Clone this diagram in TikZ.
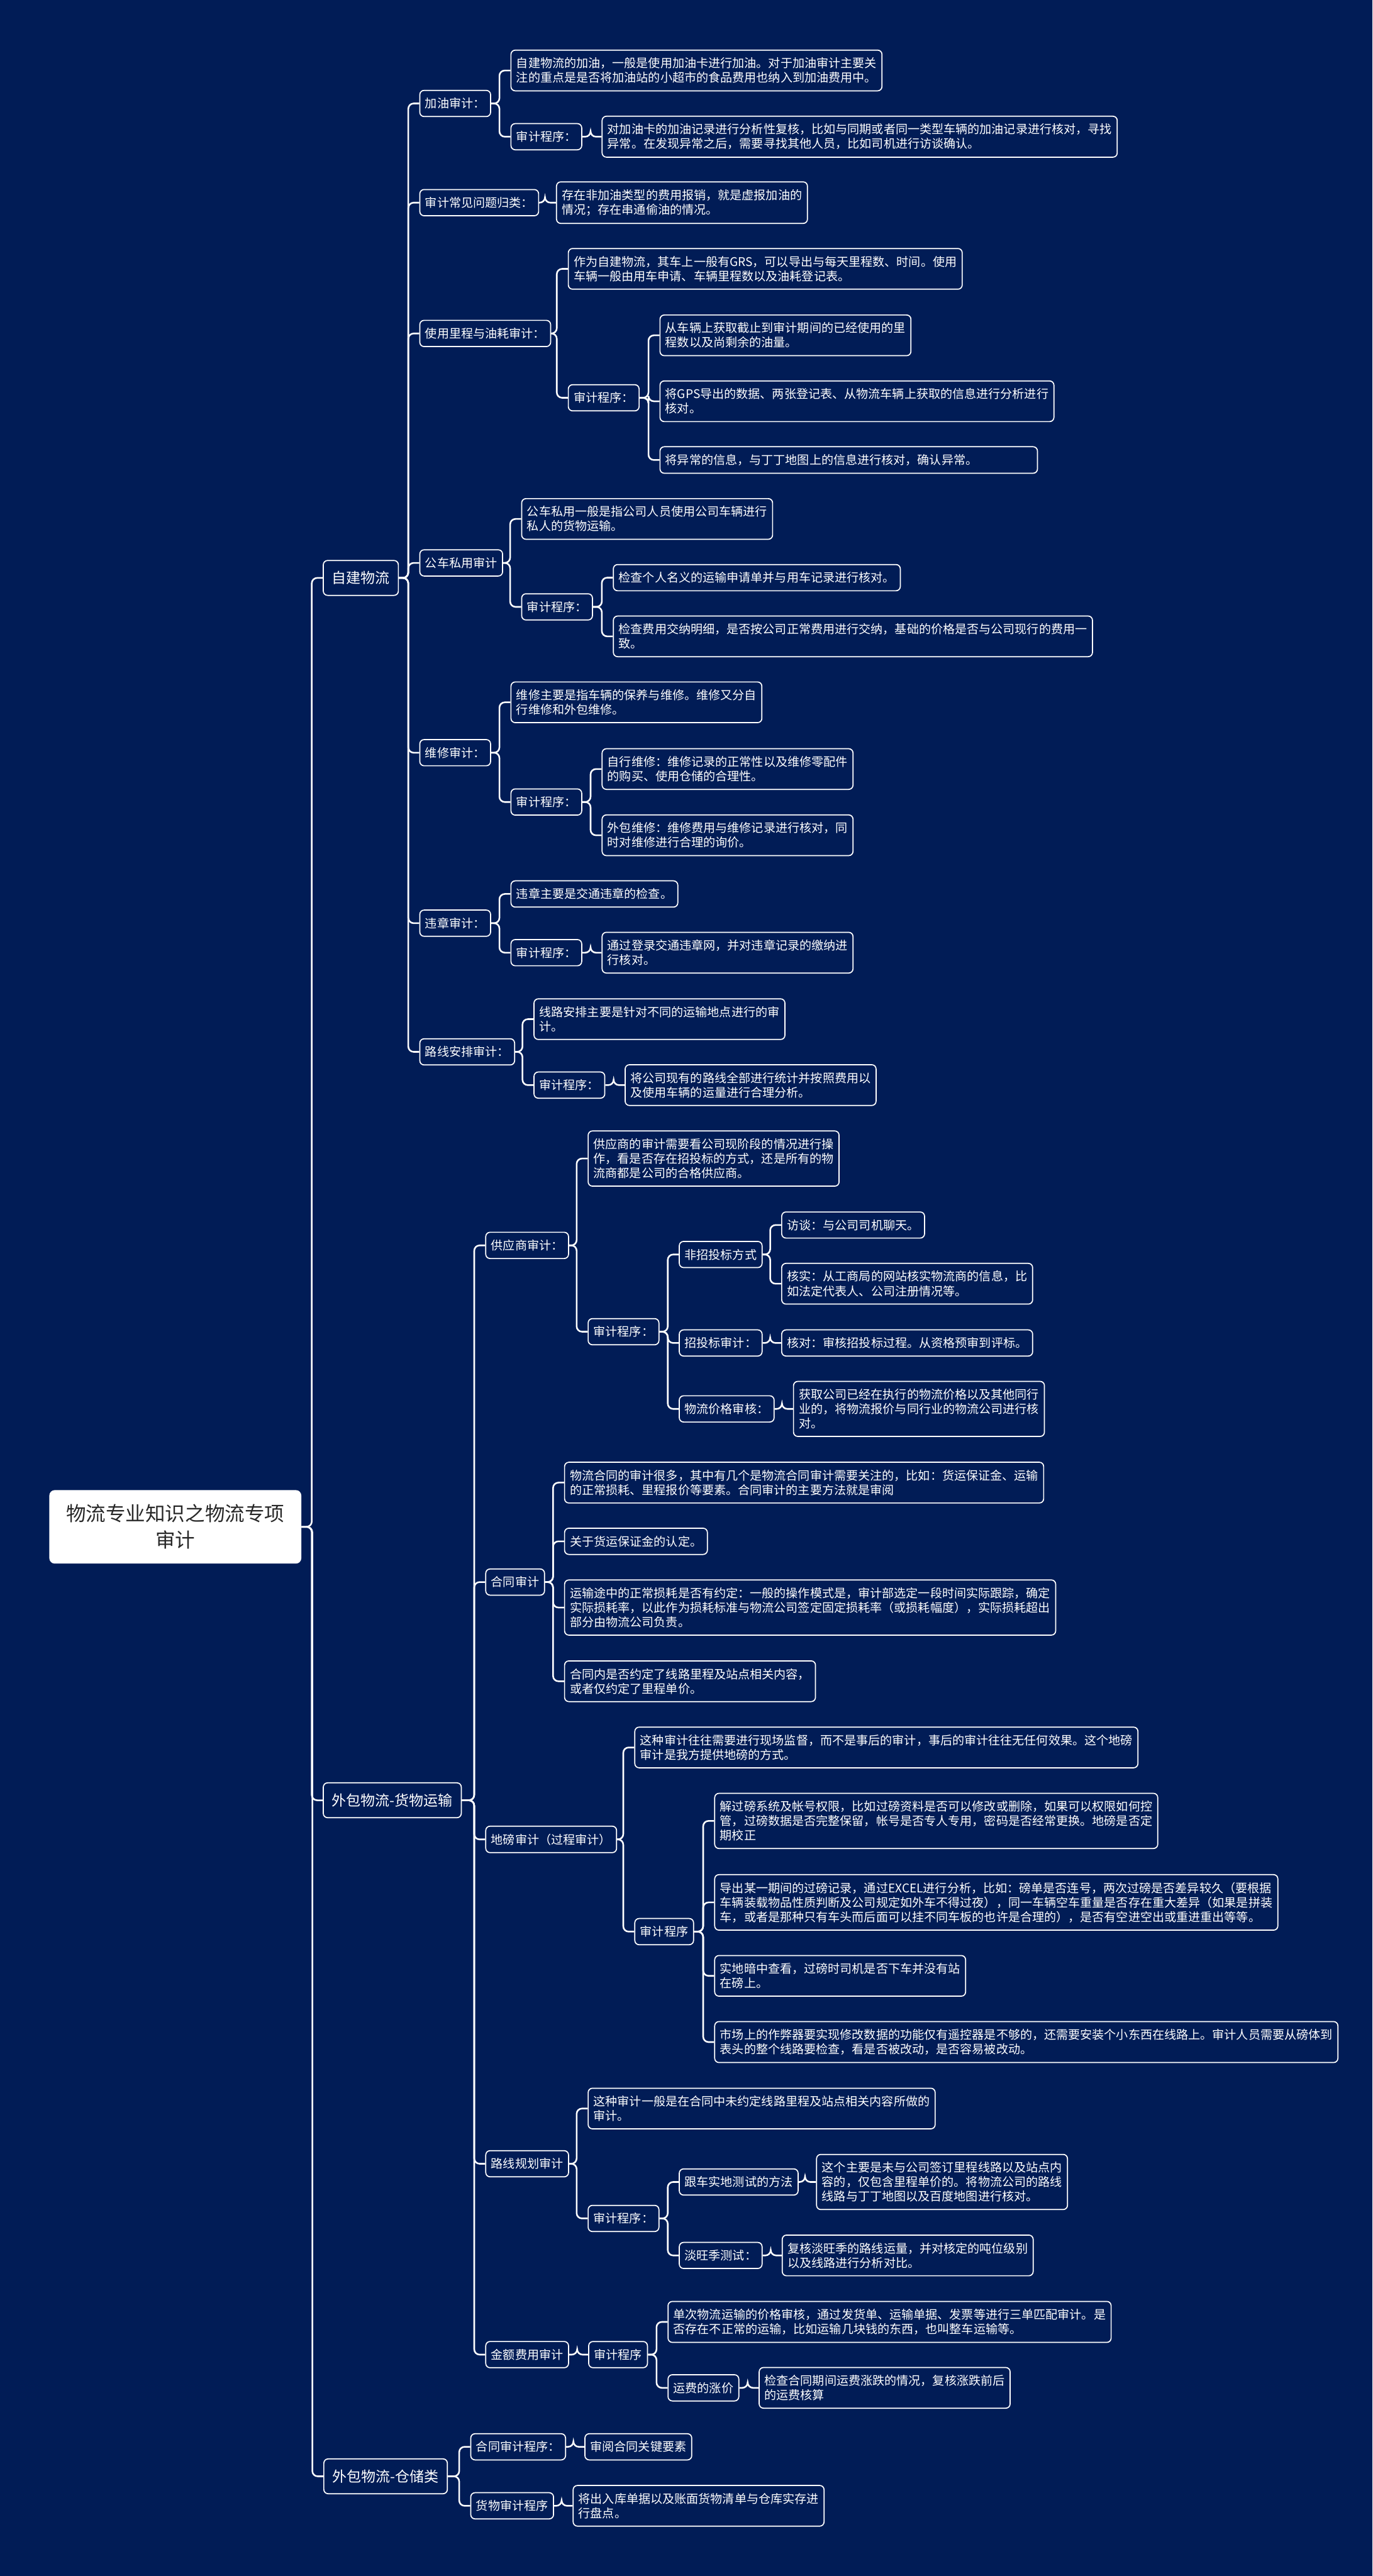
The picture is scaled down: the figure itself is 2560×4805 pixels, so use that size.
\documentclass[tikz,border=0pt]{standalone}
\usepackage{fontspec}
\newfontfamily\cjk{Noto Sans CJK SC}
\usetikzlibrary{calc}
\definecolor{NavyBg}{RGB}{1,28,86}
\definecolor{RootInk}{RGB}{40,40,40}
\tikzset{
  root/.style={fill=white,rounded corners=5pt,text=RootInk,align=center,
    minimum width=235pt,minimum height=68.5pt,font=\cjk\fontsize{18.5}{24.5}\selectfont},
  topic/.style={draw=white,line width=1pt,fill=NavyBg,text=white,rounded corners=4pt,
    inner xsep=8pt,minimum height=32.5pt,anchor=west,font=\cjk\fontsize{13.5}{16}\selectfont},
  item/.style={draw=white,line width=1pt,fill=NavyBg,text=white,rounded corners=4pt,
    inner xsep=5pt,inner ysep=7pt,align=left,anchor=west,font=\cjk\fontsize{11.2}{13.5}\selectfont},
  link/.style={draw=white,line width=1.5pt,rounded corners=5pt},
}
\begin{document}
\begin{tikzpicture}[x=0.5pt,y=-0.5pt]
\fill[NavyBg] (0,0) rectangle (2560,4805);
\node[root] (root) at (327,2848) {物流专业知识之物流专项\\审计};
% 自建物流
\node[topic] (z) at (602,1078) {自建物流};
\node[item] (za) at (782,193) {加油审计：};
\node[item] (zat) at (952,131.5) {自建物流的加油，一般是使用加油卡进行加油。对于加油审计主要关\\注的重点是是否将加油站的小超市的食品费用也纳入到加油费用中。};
\node[item] (zap) at (952,255) {审计程序：};
\node[item] (zapt) at (1122,255) {对加油卡的加油记录进行分析性复核，比如与同期或者同一类型车辆的加油记录进行核对，寻找\\异常。在发现异常之后，需要寻找其他人员，比如司机进行访谈确认。};
\node[item] (zb) at (782,378) {审计常见问题归类：};
\node[item] (zbt) at (1037,378) {存在非加油类型的费用报销，就是虚报加油的\\情况；存在串通偷油的情况。};
\node[item] (zc) at (782,622) {使用里程与油耗审计：};
\node[item] (zct) at (1059,501.5) {作为自建物流，其车上一般有GRS，可以导出与每天里程数、时间。使用\\车辆一般由用车申请、车辆里程数以及油耗登记表。};
\node[item] (zcp) at (1059,742) {审计程序：};
\node[item] (zcp1) at (1230,625.5) {从车辆上获取截止到审计期间的已经使用的里\\程数以及尚剩余的油量。};
\node[item] (zcp2) at (1230,748.5) {将GPS导出的数据、两张登记表、从物流车辆上获取的信息进行分析进行\\核对。};
\node[item,text width=342pt] (zcp3) at (1230,858) {将异常的信息，与丁丁地图上的信息进行核对，确认异常。};
\node[item] (zd) at (782,1050) {公车私用审计};
\node[item] (zdt) at (972,968) {公车私用一般是指公司人员使用公司车辆进行\\私人的货物运输。};
\node[item] (zdp) at (972,1132) {审计程序：};
\node[item] (zdp1) at (1143,1077.5) {检查个人名义的运输申请单并与用车记录进行核对。};
\node[item] (zdp2) at (1143,1187) {检查费用交纳明细，是否按公司正常费用进行交纳，基础的价格是否与公司现行的费用一\\致。};
\node[item] (ze) at (782,1404) {维修审计：};
\node[item] (zet) at (952,1310) {维修主要是指车辆的保养与维修。维修又分自\\行维修和外包维修。};
\node[item] (zep) at (952,1496) {审计程序：};
\node[item] (zep1) at (1122,1434.5) {自行维修：维修记录的正常性以及维修零配件\\的购买、使用仓储的合理性。};
\node[item] (zep2) at (1122,1558) {外包维修：维修费用与维修记录进行核对，同\\时对维修进行合理的询价。};
\node[item] (zf) at (782,1722) {违章审计：};
\node[item] (zft) at (952,1667.5) {违章主要是交通违章的检查。};
\node[item] (zfp) at (952,1777) {审计程序：};
\node[item] (zfp1) at (1122,1777) {通过登录交通违章网，并对违章记录的缴纳进\\行核对。};
\node[item] (zg) at (782,1962) {路线安排审计：};
\node[item] (zgt) at (995,1901) {线路安排主要是针对不同的运输地点进行的审\\计。};
\node[item] (zgp) at (995,2024) {审计程序：};
\node[item] (zgp1) at (1165,2024) {将公司现有的路线全部进行统计并按照费用以\\及使用车辆的运量进行合理分析。};
% 外包物流-货物运输
\node[topic] (w) at (602,3358) {外包物流-货物运输};
\node[item] (wa) at (905,2323) {供应商审计：};
\node[item] (wat) at (1096,2161) {供应商的审计需要看公司现阶段的情况进行操\\作，看是否存在招投标的方式，还是所有的物\\流商都是公司的合格供应商。};
\node[item] (wap) at (1096,2484) {审计程序：};
\node[item] (wap1) at (1266,2340) {非招投标方式};
\node[item] (wap1a) at (1457,2285) {访谈：与公司司机聊天。};
\node[item] (wap1b) at (1457,2394.5) {核实：从工商局的网站核实物流商的信息，比\\如法定代表人、公司注册情况等。};
\node[item] (wap2) at (1266,2505) {招投标审计：};
\node[item] (wap2a) at (1457,2505) {核对：审核招投标过程。从资格预审到评标。};
\node[item] (wap3) at (1266,2628) {物流价格审核：};
\node[item] (wap3a) at (1479,2628) {获取公司已经在执行的物流价格以及其他同行\\业的，将物流报价与同行业的物流公司进行核\\对。};
\node[item] (wb) at (905,2951) {合同审计};
\node[item] (wb1) at (1052,2765.5) {物流合同的审计很多，其中有几个是物流合同审计需要关注的，比如：货运保证金、运输\\的正常损耗、里程报价等要素。合同审计的主要方法就是审阅};
\node[item] (wb2) at (1052,2875) {关于货运保证金的认定。};
\node[item] (wb3) at (1052,2998.5) {运输途中的正常损耗是否有约定：一般的操作模式是，审计部选定一段时间实际跟踪，确定\\实际损耗率，以此作为损耗标准与物流公司签定固定损耗率（或损耗幅度），实际损耗超出\\部分由物流公司负责。};
\node[item] (wb4) at (1052,3136) {合同内是否约定了线路里程及站点相关内容，\\或者仅约定了里程单价。};
\node[item] (wc) at (905,3431) {地磅审计（过程审计）};
\node[item] (wct) at (1183,3259.5) {这种审计往往需要进行现场监督，而不是事后的审计，事后的审计往往无任何效果。这个地磅\\审计是我方提供地磅的方式。};
\node[item] (wcp) at (1183,3603) {审计程序};
\node[item] (wcp1) at (1332,3396.5) {解过磅系统及帐号权限，比如过磅资料是否可以修改或删除，如果可以权限如何控\\管，过磅数据是否完整保留，帐号是否专人专用，密码是否经常更换。地磅是否定\\期校正};
\node[item] (wcp2) at (1332,3548.5) {导出某一期间的过磅记录，通过EXCEL进行分析，比如：磅单是否连号，两次过磅是否差异较久（要根据\\车辆装载物品性质判断及公司规定如外车不得过夜），同一车辆空车重量是否存在重大差异（如果是拼装\\车，或者是那种只有车头而后面可以挂不同车板的也许是合理的），是否有空进空出或重进重出等等。};
\node[item] (wcp3) at (1332,3685.5) {实地暗中查看，过磅时司机是否下车并没有站\\在磅上。};
\node[item] (wcp4) at (1332,3809) {市场上的作弊器要实现修改数据的功能仅有遥控器是不够的，还需要安装个小东西在线路上。审计人员需要从磅体到\\表头的整个线路要检查，看是否被改动，是否容易被改动。};
\node[item] (wd) at (905,4036) {路线规划审计};
\node[item] (wdt) at (1096,3933) {这种审计一般是在合同中未约定线路里程及站点相关内容所做的\\审计。};
\node[item] (wdp) at (1096,4138) {审计程序：};
\node[item] (wdp1) at (1266,4070) {跟车实地测试的方法};
\node[item] (wdp1a) at (1522,4070) {这个主要是未与公司签订里程线路以及站点内\\容的，仅包含里程单价的。将物流公司的路线\\线路与丁丁地图以及百度地图进行核对。};
\node[item] (wdp2) at (1266,4207) {淡旺季测试：};
\node[item] (wdp2a) at (1458,4207) {复核淡旺季的路线运量，并对核定的吨位级别\\以及线路进行分析对比。};
\node[item] (we) at (905,4392) {金额费用审计};
\node[item] (wep) at (1097,4392) {审计程序};
\node[item] (wep1) at (1245,4331) {单次物流运输的价格审核，通过发货单、运输单据、发票等进行三单匹配审计。是\\否存在不正常的运输，比如运输几块钱的东西，也叫整车运输等。};
\node[item] (wep2) at (1245,4454) {运费的涨价};
\node[item] (wep2a) at (1415,4454) {检查合同期间运费涨跌的情况，复核涨跌前后\\的运费核算};
% 外包物流-仓储类
\node[topic] (s) at (603,4619) {外包物流-仓储类};
\node[item] (sa) at (877,4564) {合同审计程序：};
\node[item] (sat) at (1090,4564) {审阅合同关键要素};
\node[item] (sb) at (877,4674) {货物审计程序};
\node[item] (sbt) at (1068,4674) {将出入库单据以及账面货物清单与仓库实存进\\行盘点。};
% connectors
\foreach \pa/\ch in {root/z,root/w,root/s,
  z/za,z/zb,z/zc,z/zd,z/ze,z/zf,z/zg,
  za/zat,za/zap,zap/zapt,zb/zbt,
  zc/zct,zc/zcp,zcp/zcp1,zcp/zcp2,zcp/zcp3,
  zd/zdt,zd/zdp,zdp/zdp1,zdp/zdp2,
  ze/zet,ze/zep,zep/zep1,zep/zep2,
  zf/zft,zf/zfp,zfp/zfp1,
  zg/zgt,zg/zgp,zgp/zgp1,
  w/wa,w/wb,w/wc,w/wd,w/we,
  wa/wat,wa/wap,wap/wap1,wap/wap2,wap/wap3,
  wap1/wap1a,wap1/wap1b,wap2/wap2a,wap3/wap3a,
  wb/wb1,wb/wb2,wb/wb3,wb/wb4,
  wc/wct,wc/wcp,wcp/wcp1,wcp/wcp2,wcp/wcp3,wcp/wcp4,
  wd/wdt,wd/wdp,wdp/wdp1,wdp/wdp2,wdp1/wdp1a,wdp2/wdp2a,
  we/wep,wep/wep1,wep/wep2,wep2/wep2a,
  s/sa,s/sb,sa/sat,sb/sbt}
  \draw[link] (\pa.east) -- ($(\ch.west |- \pa.east)+(-20.5,0)$) |- (\ch.west);
\end{tikzpicture}
\end{document}
